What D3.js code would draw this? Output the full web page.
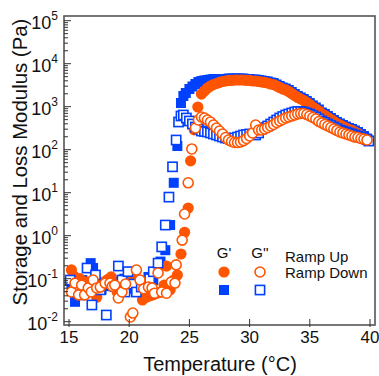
<!DOCTYPE html>
<html><head><meta charset="utf-8">
<script src="https://cdn.jsdelivr.net/npm/d3@7"></script>
<style>body{margin:0;background:#fff}svg{display:block;font-family:"Liberation Sans",Arial,sans-serif}</style>
</head><body><svg id="c" width="379" height="376"></svg>
<script>
// G' Ramp Up (orange filled circles)
const upGpT = [15.2,15.4,15.6,15.9,16.2,16.5,16.8,17.1,17.3,17.6,17.9,18.2,18.5,18.8,19.0,19.3,19.6,19.9,20.2,20.5,20.8,21.1,21.4,21.7,22.0,22.3,22.6,22.9,23.1,23.4,23.7,24.0,24.3,24.6,24.9,25.1,25.4,25.7,26.0,26.25,26.5,26.75,27.0,27.25,27.5,27.75,28.0,28.25,28.5,28.75,29.0,29.25,29.5,29.75,30.0,30.25,30.5,30.75,31.0,31.25,31.5,31.75,32.0,32.25,32.5,32.75,33.0,33.25,33.5,33.75,34.0,34.25,34.5,34.75,35.0,35.25,35.5,35.75,36.0,36.25,36.5,36.75,37.0,37.25,37.5,37.75,38.0,38.25,38.5,38.75,39.0,39.25,39.5,39.75];
const upGp = [0.16,0.115,0.079,0.10,0.064,0.084,0.055,0.075,0.037,0.071,0.084,0.095,0.11,0.084,0.049,0.079,0.064,0.084,0.10,0.071,0.055,0.032,0.037,0.040,0.042,0.046,0.049,0.071,0.197,0.055,0.093,0.122,0.375,1.2,4.4,55,290,985,1970,2320,2720,3030,3280,3460,3660,3860,3960,4080,4080,4180,4180,4180,4180,4080,4080,3960,3960,3860,3750,3660,3560,3370,3280,3030,2800,2580,2450,2260,2030,1820,1640,1510,1390,1250,1125,985,885,795,676,624,561,504,453,407,375,346,320,295,280,258,238,214,192,168];
// G'' Ramp Up (orange open circles)
const upGppT = [15.2,15.5,15.8,16.05,16.3,16.6,16.85,17.0,17.3,17.6,18.0,18.4,18.6,18.8,19.1,19.4,19.7,20.1,20.3,20.6,20.9,21.2,21.6,21.9,22.1,22.4,22.7,23.1,23.5,23.8,23.9,24.4,24.6,24.9,25.2,25.5,25.75,26.0,26.25,26.5,26.75,27.0,27.25,27.5,27.75,28.0,28.25,28.5,28.75,29.0,29.25,29.5,29.75,30.0,30.25,30.5,30.75,31.0,31.25,31.5,31.75,32.0,32.25,32.5,32.75,33.0,33.25,33.5,33.75,34.0,34.25,34.5,34.75,35.0,35.25,35.5,35.75,36.0,36.25,36.5,36.75,37.0,37.25,37.5,37.75,38.0,38.25,38.5,38.75,39.0,39.25,39.5,39.75];
const upGpp = [0.049,0.079,0.042,0.071,0.042,0.061,0.049,0.093,0.061,0.064,0.079,0.079,0.067,0.071,0.0356,0.049,0.075,0.0129,0.0159,0.159,0.093,0.058,0.064,0.061,0.046,0.136,0.049,0.046,0.084,0.079,0.21,0.79,3.2,17,104,320,491,576,546,491,441,375,320,272,232,192,168,155,147,147,151,163,182,208,245,375,287,287,303,328,356,386,430,465,504,546,576,608,641,676,695,695,658,608,561,518,453,418,386,356,328,303,280,258,245,232,220,208,197,192,182,177,168];
// G' Ramp Down (blue filled squares)
const downGpT = [15.2,15.5,15.8,16.1,16.4,16.8,17.0,17.3,17.7,18.0,18.4,18.8,19.2,19.6,20.0,20.4,20.8,21.2,21.6,22.0,22.3,22.6,23.0,23.4,23.7,24.0,24.3,24.5,24.7,25.0,25.25,25.5,25.75,26.0,26.25,26.5,26.75,27.0,27.25,27.5,27.75,28.0,28.25,28.5,28.75,29.0,29.25,29.5,29.75,30.0,30.25,30.5,30.75,31.0,31.25,31.5,31.75,32.0,32.25,32.5,32.75,33.0,33.25,33.5,33.75,34.0,34.25,34.5,34.75,35.0,35.25,35.5,35.75,36.0,36.25,36.5,36.75,37.0,37.25,37.5,37.75,38.0,38.25,38.5,38.75,39.0,39.25,39.5,39.75,39.9];
const downGp = [0.079,0.029,0.061,0.093,0.071,0.23,0.177,0.079,0.055,0.067,0.093,0.064,0.079,0.10,0.071,0.058,0.079,0.067,0.11,0.093,0.145,0.25,0.46,1.77,17,122,1220,1775,2080,2580,2950,3370,3750,3960,4080,4180,4290,4400,4400,4400,4400,4400,4530,4530,4530,4530,4530,4530,4400,4400,4290,4290,4180,4080,3960,3860,3660,3560,3280,3030,2800,2650,2450,2200,1970,1780,1640,1510,1360,1220,1070,960,860,733,676,608,546,491,441,407,375,346,320,303,280,258,232,208,182,163];
// G'' Ramp Down (blue open squares)
const downGppT = [15.1,15.4,15.7,16.0,16.5,16.9,17.2,17.6,18.1,18.5,19.1,19.4,19.65,19.9,20.3,20.6,21.0,21.3,21.7,22.0,22.4,22.7,23.0,23.3,23.6,23.9,24.1,24.3,24.5,24.75,25.0,25.25,25.5,25.75,26.0,26.25,26.5,26.75,27.0,27.25,27.5,27.75,28.0,28.25,28.5,28.75,29.0,29.25,29.5,29.75,30.0,30.25,30.5,30.75,31.0,31.25,31.5,31.75,32.0,32.25,32.5,32.75,33.0,33.25,33.5,33.75,34.0,34.25,34.5,34.75,35.0,35.25,35.5,35.75,36.0,36.25,36.5,36.75,37.0,37.25,37.5,37.75,38.0,38.25,38.5,38.75,39.0,39.25,39.5,39.75,39.9];
const downGpp = [0.093,0.055,0.067,0.042,0.177,0.0245,0.122,0.055,0.0143,0.071,0.197,0.093,0.049,0.146,0.075,0.049,0.064,0.084,0.10,0.145,0.23,0.55,1.77,7.9,40,168,441,608,641,546,465,396,337,303,272,265,258,245,232,220,208,197,187,182,177,187,197,208,220,226,232,226,220,245,303,328,356,396,441,491,546,592,641,676,713,753,775,775,753,713,676,624,576,518,465,430,396,365,337,310,287,272,258,245,232,220,208,197,187,172,159];

const xTicks = [15,20,25,30,35,40];
const yDecades = [-2,-1,0,1,2,3,4,5];
const legendCols = ["G'", "G''"];
const legendRows = ["Ramp Up", "Ramp Down"];

const ORANGE = "#ff5500", BLUE = "#0040ff";
const svg = d3.select("#c");
const L = 64, R = 375, T = 16, B = 325;
const x = d3.scaleLinear().domain([15, 40]).range([69, 370]);
const y = d3.scaleLog().domain([1e-2, 1e5]).range([321.7, 20.7]);

const zip = (ts, vs) => ts.map((t, i) => [t, vs[i]]);
const plot = svg.append("g");
const sq = 10;
function squares(data, filled) {
  const s = filled ? sq : sq - 0.8;
  plot.append("g").selectAll("rect").data(data).join("rect")
    .attr("x", d => x(d[0]) - s / 2).attr("y", d => y(d[1]) - s / 2)
    .attr("width", s).attr("height", s)
    .attr("fill", filled ? BLUE : "#fff")
    .attr("stroke", filled ? "none" : BLUE).attr("stroke-width", 1.6);
}
function circles(data, filled) {
  plot.append("g").selectAll("circle").data(data).join("circle")
    .attr("cx", d => x(d[0])).attr("cy", d => y(d[1]))
    .attr("r", filled ? 5.6 : 5)
    .attr("fill", filled ? ORANGE : "#fff")
    .attr("stroke", filled ? "none" : ORANGE).attr("stroke-width", 1.6);
}
squares(zip(downGpT, downGp), true);
circles(zip(upGpT, upGp), true);
squares(zip(downGppT, downGpp), false);
circles(zip(upGppT, upGpp), false);

// frame
svg.append("rect").attr("x", L).attr("y", T).attr("width", R - L).attr("height", B - T)
  .attr("fill", "none").attr("stroke", "#555").attr("stroke-width", 1.6);

// y ticks
const yt = svg.append("g").attr("stroke", "#333").attr("stroke-width", 1);
yDecades.forEach(k => {
  yt.append("line").attr("x1", L).attr("x2", L + 7).attr("y1", y(Math.pow(10, k))).attr("y2", y(Math.pow(10, k)));
  if (k < 5) for (let m = 2; m <= 9; m++) {
    const yy = y(m * Math.pow(10, k));
    yt.append("line").attr("x1", L).attr("x2", L + 4).attr("y1", yy).attr("y2", yy);
  }
});
const ylab = svg.append("g").attr("font-size", 18).attr("fill", "#111");
yDecades.forEach(k => {
  const t = ylab.append("text").attr("x", 58).attr("y", y(Math.pow(10, k)) + 8).attr("text-anchor", "end");
  t.append("tspan").text("10");
  t.append("tspan").attr("dy", -9).attr("font-size", 12).text(k);
});

// x ticks
const xt = svg.append("g").attr("stroke", "#333").attr("stroke-width", 1);
xTicks.forEach(v => xt.append("line").attr("x1", x(v)).attr("x2", x(v)).attr("y1", B - 6).attr("y2", B + 2));
svg.append("g").attr("font-size", 17).attr("fill", "#111").attr("text-anchor", "middle")
  .selectAll("text").data(xTicks).join("text").attr("x", d => x(d)).attr("y", 343).text(d => d);

// axis titles
svg.append("text").attr("x", 220).attr("y", 371).attr("text-anchor", "middle").attr("font-size", 20).attr("fill", "#111").text("Temperature (°C)");
svg.append("text").attr("transform", "translate(27,162) rotate(-90)").attr("text-anchor", "middle").attr("font-size", 20.4).attr("fill", "#111").text("Storage and Loss Modulus (Pa)");

// legend
const lg = svg.append("g").attr("fill", "#111");
const colX = [224, 260], rowY = [272, 290];
legendCols.forEach((c, i) => lg.append("text").attr("x", colX[i]).attr("y", 258).attr("text-anchor", "middle").attr("font-size", 15).text(c));
legendRows.forEach((r, i) => lg.append("text").attr("x", 285).attr("y", 262 + i * 16).attr("font-size", 15).text(r));
lg.append("circle").attr("cx", colX[0]).attr("cy", rowY[0]).attr("r", 5.6).attr("fill", ORANGE);
lg.append("circle").attr("cx", colX[1]).attr("cy", rowY[0]).attr("r", 5).attr("fill", "#fff").attr("stroke", ORANGE).attr("stroke-width", 1.6);
lg.append("rect").attr("x", colX[0] - 5).attr("y", rowY[1] - 5).attr("width", 10).attr("height", 10).attr("fill", BLUE);
lg.append("rect").attr("x", colX[1] - 4.6).attr("y", rowY[1] - 4.6).attr("width", 9.2).attr("height", 9.2).attr("fill", "#fff").attr("stroke", BLUE).attr("stroke-width", 1.6);
</script></body></html>
